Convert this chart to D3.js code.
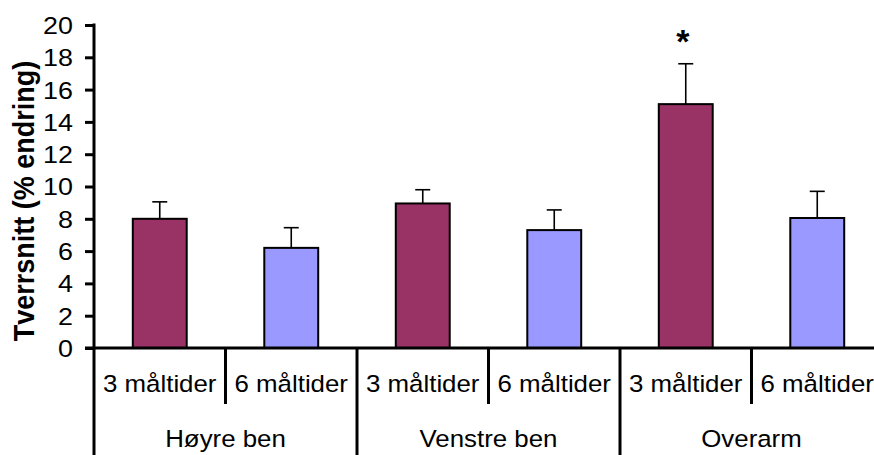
<!DOCTYPE html>
<html>
<head>
<meta charset="utf-8">
<script src="https://cdn.jsdelivr.net/npm/d3@7"></script>
<style>
html,body{margin:0;padding:0;background:#fff;}
svg{display:block;font-family:"Liberation Sans",Arial,sans-serif;}
</style>
</head>
<body>
<svg id="chart" width="874" height="455"></svg>
<script>
const groups = ["Høyre ben", "Venstre ben", "Overarm"];
const subLabels = ["3 måltider", "6 måltider"];
const means = [8.0, 6.2, 8.95, 7.3, 15.1, 8.05];
const errors = [1.05, 1.25, 0.85, 1.25, 2.5, 1.65];
const significant = [false, false, false, false, true, false];
const yTicks = [0, 2, 4, 6, 8, 10, 12, 14, 16, 18, 20];
const colors = ["#993366", "#9999FF"];
const yTitle = "Tverrsnitt (% endring)";

const cats = [];
groups.forEach((g, gi) => subLabels.forEach((s, si) => cats.push({key: gi + "-" + si, group: g, gi, sub: s, si})));
cats.forEach((c, i) => { c.value = means[i]; c.err = errors[i]; c.sig = significant[i]; });

const svg = d3.select("#chart");
const x0 = 94, x1 = 883, y0 = 348, yTop = 25;
const x = d3.scaleBand().domain(cats.map(c => c.key)).range([x0, x1]).padding(0);
const y = d3.scaleLinear().domain([0, 20]).range([y0, yTop]);
const bw = x.bandwidth() * 0.41;
const cx = d => x(d.key) + x.bandwidth() / 2;

// Bars
svg.selectAll("rect.bar").data(cats).enter().append("rect")
  .attr("class", "bar")
  .attr("x", d => cx(d) - bw / 2)
  .attr("y", d => y(d.value))
  .attr("width", bw)
  .attr("height", d => y(0) - y(d.value))
  .attr("fill", d => colors[d.si])
  .attr("stroke", "#000")
  .attr("stroke-width", 2);

// Error bars
const eb = svg.selectAll("g.err").data(cats).enter().append("g").attr("class", "err");
eb.append("line")
  .attr("x1", cx).attr("x2", cx)
  .attr("y1", d => y(d.value))
  .attr("y2", d => y(d.value + d.err))
  .attr("stroke", "#000").attr("stroke-width", 1.6);
eb.append("line")
  .attr("x1", d => cx(d) - 7.5)
  .attr("x2", d => cx(d) + 7.5)
  .attr("y1", d => y(d.value + d.err))
  .attr("y2", d => y(d.value + d.err))
  .attr("stroke", "#000").attr("stroke-width", 1.6);

// Significance
svg.selectAll("text.sig").data(cats.filter(c => c.sig)).enter().append("text")
  .attr("class", "sig")
  .attr("x", d => cx(d) - 3)
  .attr("y", d => y(d.value + d.err) - 10.5)
  .attr("text-anchor", "middle")
  .attr("font-size", 34)
  .attr("font-weight", "bold")
  .text("*");

// Y axis
const yAxis = d3.axisLeft(y).tickValues(yTicks).tickSize(9).tickPadding(0).tickFormat(d3.format("d"));
const ga = svg.append("g").attr("transform", `translate(${x0},0)`).call(yAxis);
ga.select(".domain").remove();
ga.selectAll(".tick line").attr("stroke", "#000").attr("stroke-width", 3);
ga.selectAll(".tick text")
  .attr("x", 0)
  .attr("dy", "0.35em")
  .attr("transform", "translate(-21,0) scale(1.12,1)")
  .attr("font-size", 24).attr("fill", "#000")
  .attr("font-family", "'Liberation Sans',Arial,sans-serif");
svg.append("line").attr("x1", x0).attr("x2", x0).attr("y1", yTop - 1.5).attr("y2", 455)
  .attr("stroke", "#000").attr("stroke-width", 3);

// X axis baseline
svg.append("line").attr("x1", x0 - 9).attr("x2", 874).attr("y1", y0).attr("y2", y0)
  .attr("stroke", "#000").attr("stroke-width", 3);

// Separators
cats.forEach((c, i) => {
  if (i === 0) return;
  const xx = x(c.key);
  const isGroup = c.si === 0;
  svg.append("line").attr("x1", xx).attr("x2", xx).attr("y1", y0)
    .attr("y2", isGroup ? 455 : 404).attr("stroke", "#000").attr("stroke-width", 3);
});

// Sub labels
svg.selectAll("text.sub").data(cats).enter().append("text")
  .attr("class", "sub")
  .attr("transform", d => `translate(${cx(d)},392) scale(1.1,1)`)
  .attr("text-anchor", "middle")
  .attr("font-size", 23.5)
  .text(d => d.sub);

// Group labels
svg.selectAll("text.grp").data(groups).enter().append("text")
  .attr("class", "grp")
  .attr("transform", (g, gi) => `translate(${(x(gi + "-0") + x(gi + "-1") + x.bandwidth()) / 2},447) scale(1.1,1)`)
  .attr("text-anchor", "middle")
  .attr("font-size", 23.5)
  .text(g => g);

// Y title
svg.append("text")
  .attr("transform", `translate(34,201) rotate(-90) scale(1,1.1)`)
  .attr("text-anchor", "middle")
  .attr("font-size", 27)
  .attr("font-weight", "bold")
  .text(yTitle);
</script>
</body>
</html>
